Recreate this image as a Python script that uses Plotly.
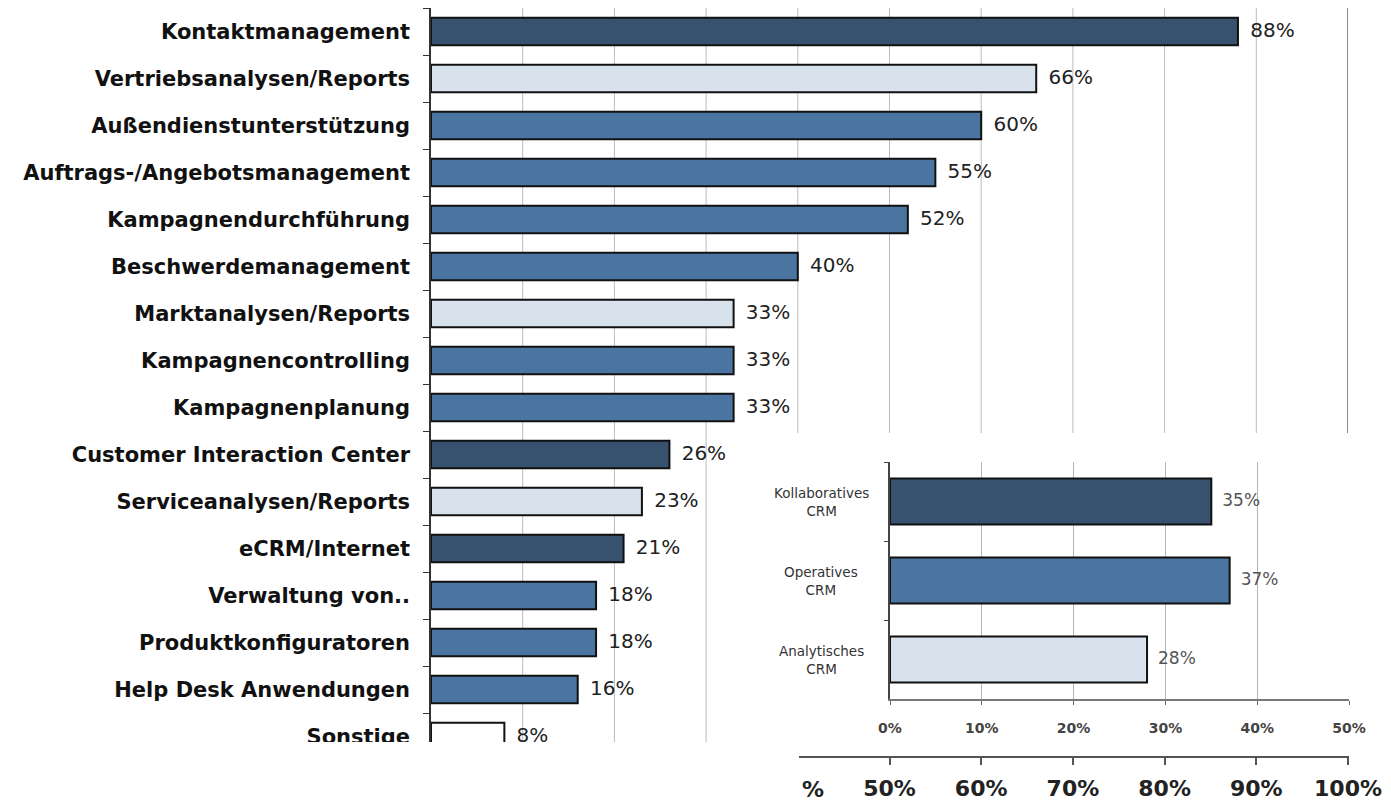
import plotly.graph_objects as go

# ---------------- data ----------------
categories = [
    "Kontaktmanagement", "Vertriebsanalysen/Reports", "Außendienstunterstützung",
    "Auftrags-/Angebotsmanagement", "Kampagnendurchführung", "Beschwerdemanagement",
    "Marktanalysen/Reports", "Kampagnencontrolling", "Kampagnenplanung",
    "Customer Interaction Center", "Serviceanalysen/Reports", "eCRM/Internet",
    "Verwaltung von..", "Produktkonfiguratoren", "Help Desk Anwendungen", "Sonstige",
]
values = [88, 66, 60, 55, 52, 40, 33, 33, 33, 26, 23, 21, 18, 18, 16, 8]
crm_type = [
    "kollaborativ", "analytisch", "operativ", "operativ", "operativ", "operativ",
    "analytisch", "operativ", "operativ", "kollaborativ", "analytisch", "kollaborativ",
    "operativ", "operativ", "operativ", "sonstige",
]

inset_categories = ["Kollaboratives<br>CRM", "Operatives<br>CRM", "Analytisches<br>CRM"]
inset_values = [35, 37, 28]
inset_type = ["kollaborativ", "operativ", "analytisch"]

main_grid_ticks = [10, 20, 30, 40, 50, 60, 70, 80, 90, 100]
bottom_ticks = [50, 60, 70, 80, 90, 100]
bottom_tick_labels = ["50%", "60%", "70%", "80%", "90%", "100%"]
inset_ticks = [0, 10, 20, 30, 40, 50]
inset_tick_labels = ["0%", "10%", "20%", "30%", "40%", "50%"]

# ---------------- style ----------------
OFF = 8  # page body margin
W, H = 1391 - OFF, 803 - OFF
colors = {
    "kollaborativ": "#37516e",
    "operativ": "#4a75a0",
    "analytisch": "#d7e2ed",
    "sonstige": "#ffffff",
}


def fx(p):
    return (p - OFF) / W


def fy(p):
    return 1 - (p - OFF) / H


MAIN_L, MAIN_R, MAIN_T, MAIN_B = 431, 1348, 8, 742
SLOT = 47.0
INSET_LEFT = 750

fig = go.Figure()

# main bars
fig.add_trace(go.Bar(
    x=values, y=categories, orientation="h",
    marker=dict(color=[colors[t] for t in crm_type], line=dict(color="#111111", width=2)),
    xaxis="x", yaxis="y", showlegend=False, hoverinfo="skip",
))
fig.add_trace(go.Scatter(
    x=values, y=categories, mode="markers+text",
    text=[f"{v}%" for v in values], textposition="middle right",
    textfont=dict(family="DejaVu Sans", size=20, color="#222222"),
    marker=dict(size=18, opacity=0),
    xaxis="x", yaxis="y", showlegend=False, hoverinfo="skip", cliponaxis=True,
))

# inset bars
fig.add_trace(go.Bar(
    x=inset_values, y=inset_categories, orientation="h",
    marker=dict(color=[colors[t] for t in inset_type], line=dict(color="#111111", width=2)),
    xaxis="x2", yaxis="y2", showlegend=False, hoverinfo="skip",
))
fig.add_trace(go.Scatter(
    x=inset_values, y=inset_categories, mode="markers+text",
    text=[f"{v}%" for v in inset_values], textposition="middle right",
    textfont=dict(family="DejaVu Sans", size=17, color="#555555"),
    marker=dict(size=16, opacity=0),
    xaxis="x2", yaxis="y2", showlegend=False, hoverinfo="skip",
))

# carrier for the separate bottom axis
fig.add_trace(go.Scatter(x=[], y=[], xaxis="x3", yaxis="y3", showlegend=False, hoverinfo="skip"))

y_bottom_units = (MAIN_B - MAIN_T) / SLOT - 0.5

shapes = []
for t in main_grid_ticks:
    xpix = MAIN_L + t / 100 * (MAIN_R - MAIN_L)
    y0 = MAIN_B if xpix < INSET_LEFT else 433
    last = t == main_grid_ticks[-1]
    shapes.append(dict(
        type="line", xref="x", yref="paper", x0=t, x1=t, y0=fy(y0), y1=fy(MAIN_T),
        line=dict(color="#8c8c8c" if last else "#bcbcbc", width=2 if last else 1),
        layer="below",
    ))
# crop of the lower-left part of the main chart
shapes.append(dict(
    type="rect", xref="paper", yref="paper", x0=-0.01, x1=fx(INSET_LEFT), y0=-0.01, y1=fy(MAIN_B),
    fillcolor="white", line=dict(width=0), layer="above",
))

annotations = []
for c in inset_categories:
    annotations.append(dict(
        xref="paper", yref="y2", x=fx(821), y=c, text=c, showarrow=False,
        align="center", xanchor="center", yanchor="middle",
        font=dict(family="DejaVu Sans", size=13.5, color="#333333"),
    ))
annotations.append(dict(
    xref="paper", yref="paper", x=fx(800), y=fy(789), text="%", showarrow=False,
    xanchor="left", yanchor="middle",
    font=dict(family="DejaVu Sans", size=22, color="#222222", weight="bold"),
))

fig.update_layout(
    width=W, height=H, autosize=False,
    margin=dict(l=0, r=0, t=0, b=0, autoexpand=False),
    paper_bgcolor="white", plot_bgcolor="white",
    bargap=0.42,
    shapes=shapes, annotations=annotations,
    xaxis=dict(
        domain=[fx(MAIN_L), fx(MAIN_R)], range=[0, 100], side="top", anchor="y",
        showline=True, linecolor="#8a8a8a", linewidth=1, automargin=False,
        showgrid=False, showticklabels=False, ticks="", zeroline=False, fixedrange=True,
    ),
    yaxis=dict(
        domain=[fy(MAIN_B), fy(MAIN_T)], type="category",
        categoryorder="array", categoryarray=categories,
        range=[y_bottom_units, -0.5], anchor="x", automargin=False,
        showline=True, linecolor="#333333", linewidth=1.5,
        ticks="outside", tickson="boundaries", ticklen=6, tickcolor="#333333",
        tickfont=dict(family="DejaVu Sans", size=21, color="#111111", weight="bold"),
        ticklabelstandoff=15, showgrid=False, fixedrange=True,
    ),
    xaxis2=dict(
        domain=[fx(890), fx(1349)], range=[0, 50], anchor="y2", automargin=False,
        showgrid=True, gridcolor="#b5b5b5", gridwidth=1,
        tickmode="array", tickvals=inset_ticks, ticktext=inset_tick_labels,
        ticks="outside", ticklen=4, tickcolor="#666666",
        showline=True, linecolor="#777777", linewidth=1.5,
        tickfont=dict(family="DejaVu Sans", size=14, color="#444444", weight="bold"),
        ticklabelstandoff=11, zeroline=False, fixedrange=True,
    ),
    yaxis2=dict(
        domain=[fy(699), fy(462)], type="category", anchor="x2", automargin=False,
        categoryorder="array", categoryarray=inset_categories,
        range=[2.5, -0.5],
        showline=True, linecolor="#444444", linewidth=1.5,
        ticks="outside", tickson="boundaries", ticklen=4, tickcolor="#444444",
        showticklabels=False, showgrid=False, fixedrange=True,
    ),
    xaxis3=dict(
        domain=[fx(799), fx(1349)],
        range=[(799 - MAIN_L) / (MAIN_R - MAIN_L) * 100, (1349 - MAIN_L) / (MAIN_R - MAIN_L) * 100],
        anchor="free", position=fy(757), automargin=False,
        showline=True, linecolor="#555555", linewidth=2,
        tickmode="array", tickvals=bottom_ticks, ticktext=bottom_tick_labels,
        ticks="outside", ticklen=7, tickwidth=2, tickcolor="#555555",
        tickfont=dict(family="DejaVu Sans", size=22, color="#222222", weight="bold"),
        ticklabelstandoff=5, showgrid=False, zeroline=False, fixedrange=True,
    ),
    yaxis3=dict(domain=[0, 0.03], anchor="x3", visible=False, fixedrange=True, automargin=False),
)

fig.write_html("out.html")
